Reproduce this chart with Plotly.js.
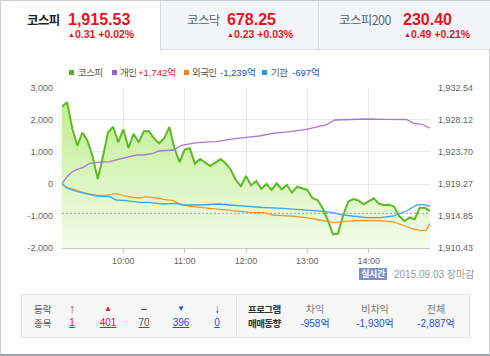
<!DOCTYPE html>
<html><head><meta charset="utf-8">
<script src="https://cdn.plot.ly/plotly-3.0.1.min.js"></script>
<style>
html,body{margin:0;padding:0;}
body{width:490px;height:356px;position:relative;overflow:hidden;background:#fff;font-family:"Liberation Sans",Arial,sans-serif;}
.abs{position:absolute;}
.t{position:absolute;height:20px;line-height:20px;white-space:nowrap;}
.kr{font-family:"Noto Sans CJK KR","Noto Sans",sans-serif;}
.red{color:#e8141b;}
.blue{color:#1a52dc;}
.c{text-align:center;width:60px;}
#chart{position:absolute;left:0;top:0;width:490px;height:356px;z-index:1;}
.over{z-index:2;}
.sq{position:absolute;width:5px;height:5px;}
u{text-decoration:underline;}
</style>
</head><body>
<!-- frame -->
<div class="abs" style="left:0;top:0;width:488px;height:353px;border:1px solid #c9cdd6;border-bottom:2px solid #9ba0aa;"></div>
<!-- tabs -->
<div class="abs" style="left:160px;top:1px;width:158px;height:48px;background:#f4f5f8;border-left:1px solid #d7dae1;border-bottom:1px solid #d7dae1;"></div>
<div class="abs" style="left:318px;top:1px;width:171px;height:48px;background:#f4f5f8;border-left:1px solid #d7dae1;border-bottom:1px solid #d7dae1;"></div>

<div class="t kr over" style="left:27px;top:10px;font-size:12.5px;font-weight:bold;color:#222;letter-spacing:-0.6px;">코스피</div>
<div class="t over red" style="left:68px;top:10px;font-size:16px;font-weight:bold;">1,915.53</div>
<div class="t over red" style="left:68px;top:24px;font-size:10.5px;font-weight:bold;"><span style="font-size:7px;vertical-align:1px;">▲</span>0.31 +0.02%</div>

<div class="t kr over" style="left:187px;top:10px;font-size:12.5px;color:#5a6175;letter-spacing:-0.6px;">코스닥</div>
<div class="t over red" style="left:227px;top:10px;font-size:16px;font-weight:bold;">678.25</div>
<div class="t over red" style="left:227px;top:24px;font-size:10.5px;font-weight:bold;"><span style="font-size:7px;vertical-align:1px;">▲</span>0.23 +0.03%</div>

<div class="t kr over" style="left:339px;top:10px;font-size:12.5px;color:#5a6175;letter-spacing:-0.6px;">코스피200</div>
<div class="t over red" style="left:403px;top:10px;font-size:16px;font-weight:bold;">230.40</div>
<div class="t over red" style="left:404px;top:24px;font-size:10.5px;font-weight:bold;"><span style="font-size:7px;vertical-align:1px;">▲</span>0.49 +0.21%</div>

<!-- legend -->
<div id="legend"></div>

<div id="chart"></div>

<!-- realtime badge -->
<div class="abs over kr" style="left:359px;top:268px;width:28px;height:12px;background:#7d91c8;color:#fff;font-size:9px;line-height:12px;text-align:center;font-weight:bold;letter-spacing:-0.5px;">실시간</div>
<div class="t over" style="left:394px;top:264px;font-size:10px;color:#999;"><span>2015.09.03</span> <span class="kr" style="font-size:10px;">장마감</span></div>

<!-- bottom panel -->
<div class="abs" style="left:21px;top:294px;width:447px;height:42px;background:#f7f7f7;border:1px solid #e4e4e4;"></div>
<div class="abs" style="left:236px;top:295px;width:1px;height:42px;background:#e4e4e4;"></div>
<div id="panel"></div>

<script>
// ---------- data ----------
const DAY = '2015-09-03';
const kospiTimes = ['09:00','09:05','09:10','09:15','09:20','09:25','09:30','09:35','09:40','09:45','09:50','09:55',
 '10:00','10:05','10:10','10:15','10:20','10:25','10:30','10:35','10:40','10:45','10:50','10:55',
 '11:00','11:05','11:10','11:15','11:20','11:25','11:30','11:35','11:40','11:45','11:50','11:55',
 '12:00','12:05','12:10','12:15','12:20','12:25','12:30','12:35','12:40','12:45','12:50','12:55',
 '13:00','13:05','13:10','13:15','13:20','13:25','13:30','13:35','13:40','13:45','13:50','13:55',
 '14:00','14:05','14:10','14:15','14:20','14:25','14:30','14:35','14:40','14:45','14:50','14:55','15:00'];
const kospiValues = [1929.96,1930.58,1926.97,1924.57,1926.39,1925.22,1923.05,1919.97,1923.05,1926.39,1927.19,1925.04,
 1926.83,1924.25,1926.22,1925.04,1926.56,1926.60,1925.59,1924.90,1925.59,1927.15,1924.21,1922.31,
 1924.04,1924.21,1922.08,1922.73,1922.27,1921.76,1922.22,1922.73,1922.13,1921.28,1919.83,1918.96,
 1920.38,1919.07,1919.69,1918.58,1919.27,1918.45,1919.37,1918.54,1919.14,1918.07,1918.90,1918.68,
 1918.45,1917.30,1917.06,1915.92,1914.30,1912.32,1912.43,1914.92,1916.83,1917.20,1916.99,1916.47,
 1916.93,1917.30,1916.55,1916.37,1916.41,1916.14,1914.81,1914.16,1914.62,1914.40,1916.00,1916.00,1915.53];

const individualTimes = ['09:00','09:05','09:10','09:15','09:21','09:27','09:34','09:47','09:55','10:03','10:13','10:19','10:29','10:35','10:39','10:49','10:57','11:12','11:31','11:44','12:00','12:13','12:26','12:43','12:59','13:18','13:27','13:41','13:58','14:14','14:37','14:44','14:52','15:00'];
const individualValues = [0,228,384,459,522,647,678,697,772,834,906,906,959,1031,1041,1062,1209,1291,1322,1397,1459,1500,1584,1634,1709,1844,2000,2022,2031,2022,2016,1897,1866,1742];

const foreignTimes = ['09:00','09:05','09:15','09:24','09:34','09:44','09:53','10:00','10:09','10:16','10:22','10:29','10:35','10:39','10:49','10:55','11:08','11:25','11:41','11:54','12:04','12:17','12:26','12:43','12:59','13:12','13:25','13:35','13:48','14:07','14:23','14:33','14:41','14:51','14:56','15:00'];
const foreignValues = [0,-109,-209,-291,-353,-350,-303,-366,-416,-438,-397,-416,-447,-478,-522,-625,-709,-759,-812,-844,-884,-897,-969,-1000,-1053,-1125,-1209,-1178,-1147,-1141,-1178,-1281,-1384,-1459,-1447,-1239];

const institutionTimes = ['09:00','09:05','09:15','09:24','09:34','09:47','09:53','10:03','10:16','10:25','10:34','10:38','10:52','10:58','11:15','11:34','11:44','12:00','12:17','12:36','12:49','12:59','13:19','13:35','13:48','13:58','14:11','14:24','14:37','14:47','14:53','15:00'];
const institutionValues = [0,-134,-241,-313,-375,-397,-500,-522,-572,-572,-625,-625,-603,-656,-656,-625,-656,-703,-734,-759,-791,-834,-866,-969,-1022,-1053,-1053,-1000,-844,-656,-634,-697];

const PREV_CLOSE = 1915.22;
const leftTicks = [-2000,-1000,0,1000,2000,3000];
const leftTickText = ['-2,000','-1,000','0','1,000','2,000','3,000'];
const rightTicks = [1910.43,1914.85,1919.27,1923.70,1928.12,1932.54];
const rightTickText = ['1,910.43','1,914.85','1,919.27','1,923.70','1,928.12','1,932.54'];
const xTickTimes = ['10:00','11:00','12:00','13:00','14:00'];
const xRange = ['09:00','15:00'];

const legendNames = ['코스피','개인','외국인','기관'];
const legendAmounts = ['','+1,742억','-1,239억','-697억'];

const breadthLabels = ['↑','▲','−','▼','↓'];
const breadthCounts = ['1','401','70','396','0'];
const programLabels = ['차익','비차익','전체'];
const programValues = ['-958억','-1,930억','-2,887억'];

// ---------- styles ----------
const C_KOSPI='#5cba22', C_IND='#a479d6', C_FOR='#f7952f', C_INS='#3ea6ea';
const ts = a => a.map(t => DAY + ' ' + t);
const tickFont = {family:'"Liberation Sans Narrow","Liberation Sans",Arial', size:9, color:'#666'};

const traces = [
 {x: ts(kospiTimes), y: kospiValues, yaxis:'y', type:'scatter', mode:'lines',
  line:{color:C_KOSPI, width:2}, fill:'tozeroy',
  fillgradient:{type:'vertical', start:1910.43, stop:1931.5,
    colorscale:[[0,'rgb(243,252,236)'],[1,'rgb(188,237,138)']]},
  hoverinfo:'skip'},
 {x: ts(foreignTimes), y: foreignValues, yaxis:'y2', type:'scatter', mode:'lines', line:{color:C_FOR, width:1.3}, hoverinfo:'skip'},
 {x: ts(institutionTimes), y: institutionValues, yaxis:'y2', type:'scatter', mode:'lines', line:{color:C_INS, width:1.3}, hoverinfo:'skip'},
 {x: ts(individualTimes), y: individualValues, yaxis:'y2', type:'scatter', mode:'lines', line:{color:C_IND, width:1.3}, hoverinfo:'skip'}
];

const layout = {
 width:490, height:356,
 margin:{l:62, r:60, t:88, b:108, pad:0},
 paper_bgcolor:'rgba(0,0,0,0)', plot_bgcolor:'rgba(0,0,0,0)',
 showlegend:false,
 xaxis:{type:'date', range: ts(xRange), tickmode:'array', tickvals: ts(xTickTimes), ticktext: xTickTimes,
   showgrid:true, gridcolor:'#e8e8e8', gridwidth:1, showline:true, linecolor:'#c8c8c8', linewidth:1,
   ticks:'outside', ticklen:4, tickcolor:'#c8c8c8', tickfont:tickFont, zeroline:false, fixedrange:true},
 yaxis:{side:'right', range:[1910.43,1932.54], tickmode:'array', tickvals:rightTicks, ticktext:rightTickText,
   showgrid:true, gridcolor:'#e8e8e8', zeroline:false, ticks:'', ticklabelstandoff:7, tickfont:tickFont, fixedrange:true},
 yaxis2:{overlaying:'y', side:'left', range:[-2000,3000], tickmode:'array', tickvals:leftTicks, ticktext:leftTickText,
   showgrid:false, zeroline:false, ticks:'', ticklabelstandoff:8, tickfont:tickFont, fixedrange:true},
 shapes:[{type:'line', xref:'paper', x0:0, x1:1, yref:'y', y0:PREV_CLOSE, y1:PREV_CLOSE,
   line:{color:'#9a9a9a', width:1, dash:'2px,2px'}, layer:'above'}]
};
Plotly.newPlot('chart', traces, layout, {staticPlot:true, displayModeBar:false});

// ---------- legend (html) ----------
const legColors = ['#56b51f','#9a63cf','#f58220','#2b93e8'];
const legSq = [69,112,184,262];
const legText = [78,120,192,271];
const legAmtX = [0,138,220,292];
const legAmtCls = ['','red','blue','blue'];
let lh = '';
for (let i=0;i<legendNames.length;i++){
  lh += `<div class="sq over" style="left:${legSq[i]}px;top:70px;background:${legColors[i]}"></div>`;
  lh += `<div class="t kr over" style="left:${legText[i]}px;top:62px;font-size:9.5px;color:#555;letter-spacing:-0.6px;">${legendNames[i]}</div>`;
  if (legendAmounts[i]) lh += `<div class="t over ${legAmtCls[i]}" style="left:${legAmtX[i]}px;top:62px;font-size:9.5px;">${legendAmounts[i].replace('억','<span class="kr">억</span>')}</div>`;
}
document.getElementById('legend').innerHTML = lh;

// ---------- bottom panel (html) ----------
let ph = '';
ph += `<div class="t kr over" style="left:34px;top:299px;font-size:9.5px;color:#555;">등락</div>`;
ph += `<div class="t kr over" style="left:34px;top:313px;font-size:9.5px;color:#555;">종목</div>`;
const bX = [72,108,144,181,217];
const bCol = ['#e8141b','#e8141b','#555','#1a52dc','#1a52dc'];
const bSize = [12,8,11,8,12];
for (let i=0;i<breadthLabels.length;i++){
  ph += `<div class="t over c" style="left:${bX[i]-30}px;top:299px;font-size:${bSize[i]}px;font-weight:bold;color:${bCol[i]}">${breadthLabels[i]}</div>`;
  ph += `<div class="t over c" style="left:${bX[i]-30}px;top:313px;font-size:10px;color:${bCol[i]}"><u>${breadthCounts[i]}</u></div>`;
}
ph += `<div class="t kr over" style="left:248px;top:299px;font-size:9.5px;color:#333;font-weight:bold;letter-spacing:-0.6px;">프로그램</div>`;
ph += `<div class="t kr over" style="left:248px;top:313px;font-size:9.5px;color:#333;font-weight:bold;letter-spacing:-0.6px;">매매동향</div>`;
const pX = [315,375,436];
for (let i=0;i<programLabels.length;i++){
  ph += `<div class="t kr over c" style="left:${pX[i]-30}px;top:299px;font-size:10px;color:#777;">${programLabels[i]}</div>`;
  ph += `<div class="t over c blue" style="left:${pX[i]-30}px;top:313px;font-size:10px;">${programValues[i].replace('억','<span class="kr">억</span>')}</div>`;
}
document.getElementById('panel').innerHTML = ph;
</script>
</body></html>
